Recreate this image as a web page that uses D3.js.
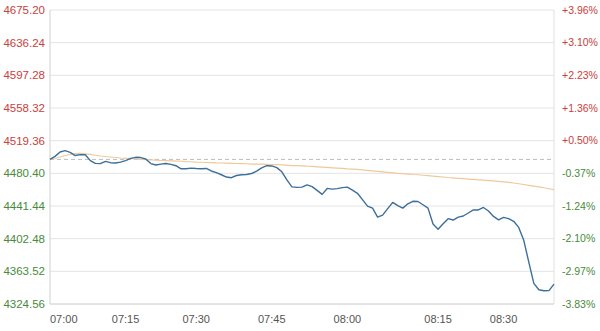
<!DOCTYPE html>
<html>
<head>
<meta charset="utf-8">
<script src="https://cdn.jsdelivr.net/npm/d3@7/dist/d3.min.js"></script>
<style>
  body { margin: 0; background: #fff; }
  svg text { font-family: "Liberation Sans", Arial, sans-serif; }
</style>
</head>
<body>
<script>
// price axis ticks (left) and change ticks (right)
const priceTicks = [4675.20, 4636.24, 4597.28, 4558.32, 4519.36, 4480.40, 4441.44, 4402.48, 4363.52, 4324.56];
const pctTicks = ["+3.96%", "+3.10%", "+2.23%", "+1.36%", "+0.50%", "-0.37%", "-1.24%", "-2.10%", "-2.97%", "-3.83%"];
const prevClose = 4497.0;

// time axis: one point per bar, labels sit on these bar positions
const timeLabels = ["07:00", "07:15", "07:30", "07:45", "08:00", "08:15", "08:30"];
const timeIndex = [0, 15, 29, 44, 59, 77, 90];

// last price per bar
const price = [
  4497.0, 4500.6, 4505.8, 4507.4, 4505.4, 4501.6, 4502.7, 4502.6, 4495.6, 4492.3,
  4492.0, 4494.6, 4493.1, 4492.7, 4493.7, 4495.6, 4498.2, 4499.5, 4499.2, 4497.5,
  4492.0, 4490.3, 4491.4, 4492.1, 4491.1, 4489.5, 4485.8, 4485.9, 4486.6, 4486.1,
  4485.9, 4486.2, 4483.2, 4481.2, 4478.7, 4476.0, 4475.2, 4477.8, 4478.7, 4479.0,
  4480.2, 4483.0, 4486.9, 4489.5, 4489.2, 4487.2, 4482.2, 4472.5, 4464.2, 4463.7,
  4463.9, 4466.6, 4464.6, 4460.1, 4455.3, 4462.4, 4461.6, 4462.1, 4463.3, 4464.0,
  4460.3, 4456.6, 4449.0, 4441.3, 4438.8, 4428.2, 4430.6, 4438.3, 4445.7, 4441.8,
  4438.9, 4444.1, 4447.1, 4446.8, 4442.9, 4438.9, 4419.9, 4413.8, 4420.3, 4426.3,
  4424.7, 4428.2, 4429.5, 4433.1, 4436.7, 4436.7, 4439.7, 4435.5, 4429.0, 4424.9,
  4427.8, 4426.4, 4423.2, 4415.9, 4400.5, 4374.5, 4349.1, 4341.6, 4340.3, 4340.5,
  4348.2
];

// average price per bar
const avgPrice = [
  4497.0, 4498.1, 4499.9, 4501.7, 4502.9, 4503.8, 4504.1, 4503.5, 4502.9, 4502.0,
  4501.1, 4500.5, 4499.9, 4499.3, 4498.7, 4498.3, 4497.9, 4497.5, 4497.1, 4496.8,
  4496.4, 4496.1, 4495.7, 4495.5, 4495.2, 4495.0, 4494.8, 4494.4, 4494.2, 4493.8,
  4493.6, 4493.3, 4493.1, 4492.8, 4492.7, 4492.5, 4492.3, 4492.1, 4491.9, 4491.8,
  4491.5, 4491.4, 4491.3, 4491.1, 4490.9, 4490.7, 4490.5, 4490.1, 4489.7, 4489.6,
  4489.4, 4488.9, 4488.6, 4488.2, 4487.8, 4487.4, 4487.0, 4486.6, 4486.3, 4485.8,
  4485.5, 4485.1, 4484.6, 4484.0, 4483.4, 4482.8, 4482.2, 4481.6, 4481.0, 4480.4,
  4480.0, 4479.5, 4479.0, 4478.7, 4478.1, 4477.6, 4477.1, 4476.5, 4476.0, 4475.4,
  4475.0, 4474.5, 4474.0, 4473.5, 4473.1, 4472.7, 4472.2, 4471.7, 4471.3, 4470.8,
  4470.3, 4469.7, 4468.9, 4468.0, 4467.1, 4466.1, 4465.2, 4464.2, 4463.2, 4462.0,
  4460.9
];

const w = 600;
const h = 331;
const margin = { top: 10, right: 46, bottom: 27, left: 50 };

const svg = d3.select("body").append("svg")
  .attr("width", w)
  .attr("height", h);

const x = d3.scaleLinear()
  .domain([0, price.length - 1])
  .range([margin.left, w - margin.right]);

const y = d3.scaleLinear()
  .domain([priceTicks[priceTicks.length - 1], priceTicks[0]])
  .range([h - margin.bottom, margin.top]);

const upColor = "#c8413b";
const downColor = "#478a3a";

// horizontal grid
svg.append("g")
  .selectAll("line")
  .data(priceTicks)
  .join("line")
  .attr("x1", margin.left)
  .attr("x2", w - margin.right)
  .attr("y1", d => y(d))
  .attr("y2", d => y(d))
  .style("stroke", "#e4e4e4")
  .style("stroke-width", 1);

// frame: left, bottom, right
svg.append("line")
  .attr("x1", margin.left).attr("x2", margin.left)
  .attr("y1", margin.top).attr("y2", h - margin.bottom)
  .style("stroke", "#cfcfcf");
svg.append("line")
  .attr("x1", w - margin.right).attr("x2", w - margin.right)
  .attr("y1", margin.top).attr("y2", h - margin.bottom)
  .style("stroke", "#e0e0e0");
svg.append("line")
  .attr("x1", margin.left).attr("x2", w - margin.right)
  .attr("y1", h - margin.bottom).attr("y2", h - margin.bottom)
  .style("stroke", "#d6d6d6");

// previous close dashed line
svg.append("line")
  .attr("x1", margin.left).attr("x2", w - margin.right)
  .attr("y1", y(prevClose)).attr("y2", y(prevClose))
  .style("stroke", "#b8bcc4")
  .style("stroke-dasharray", "4,3");

// left price labels
svg.append("g")
  .selectAll("text")
  .data(priceTicks)
  .join("text")
  .attr("x", margin.left - 5)
  .attr("y", d => y(d))
  .attr("dy", "0.35em")
  .attr("text-anchor", "end")
  .style("font-size", "11.5px")
  .style("fill", d => d > prevClose ? upColor : downColor)
  .text(d => d.toFixed(2));

// right percentage labels
svg.append("g")
  .selectAll("text")
  .data(pctTicks)
  .join("text")
  .attr("x", w - margin.right + 8)
  .attr("y", (d, i) => y(priceTicks[i]))
  .attr("dy", "0.35em")
  .attr("text-anchor", "start")
  .style("font-size", "10.5px")
  .style("fill", d => d[0] === "+" ? upColor : downColor)
  .text(d => d);

// time labels
svg.append("g")
  .selectAll("text")
  .data(timeLabels)
  .join("text")
  .attr("x", (d, i) => x(timeIndex[i]))
  .attr("y", h - 8)
  .attr("text-anchor", (d, i) => i === 0 ? "start" : "middle")
  .style("font-size", "11px")
  .style("fill", "#555")
  .text(d => d);

const line = d3.line()
  .x((d, i) => x(i))
  .y(d => y(d));

svg.append("path")
  .datum(avgPrice)
  .attr("d", line)
  .style("fill", "none")
  .style("stroke", "#f0c89a")
  .style("stroke-width", 1.2);

svg.append("path")
  .datum(price)
  .attr("d", line)
  .style("fill", "none")
  .style("stroke", "#3b6f9c")
  .style("stroke-width", 1.4)
  .style("stroke-linejoin", "round");
</script>
</body>
</html>
